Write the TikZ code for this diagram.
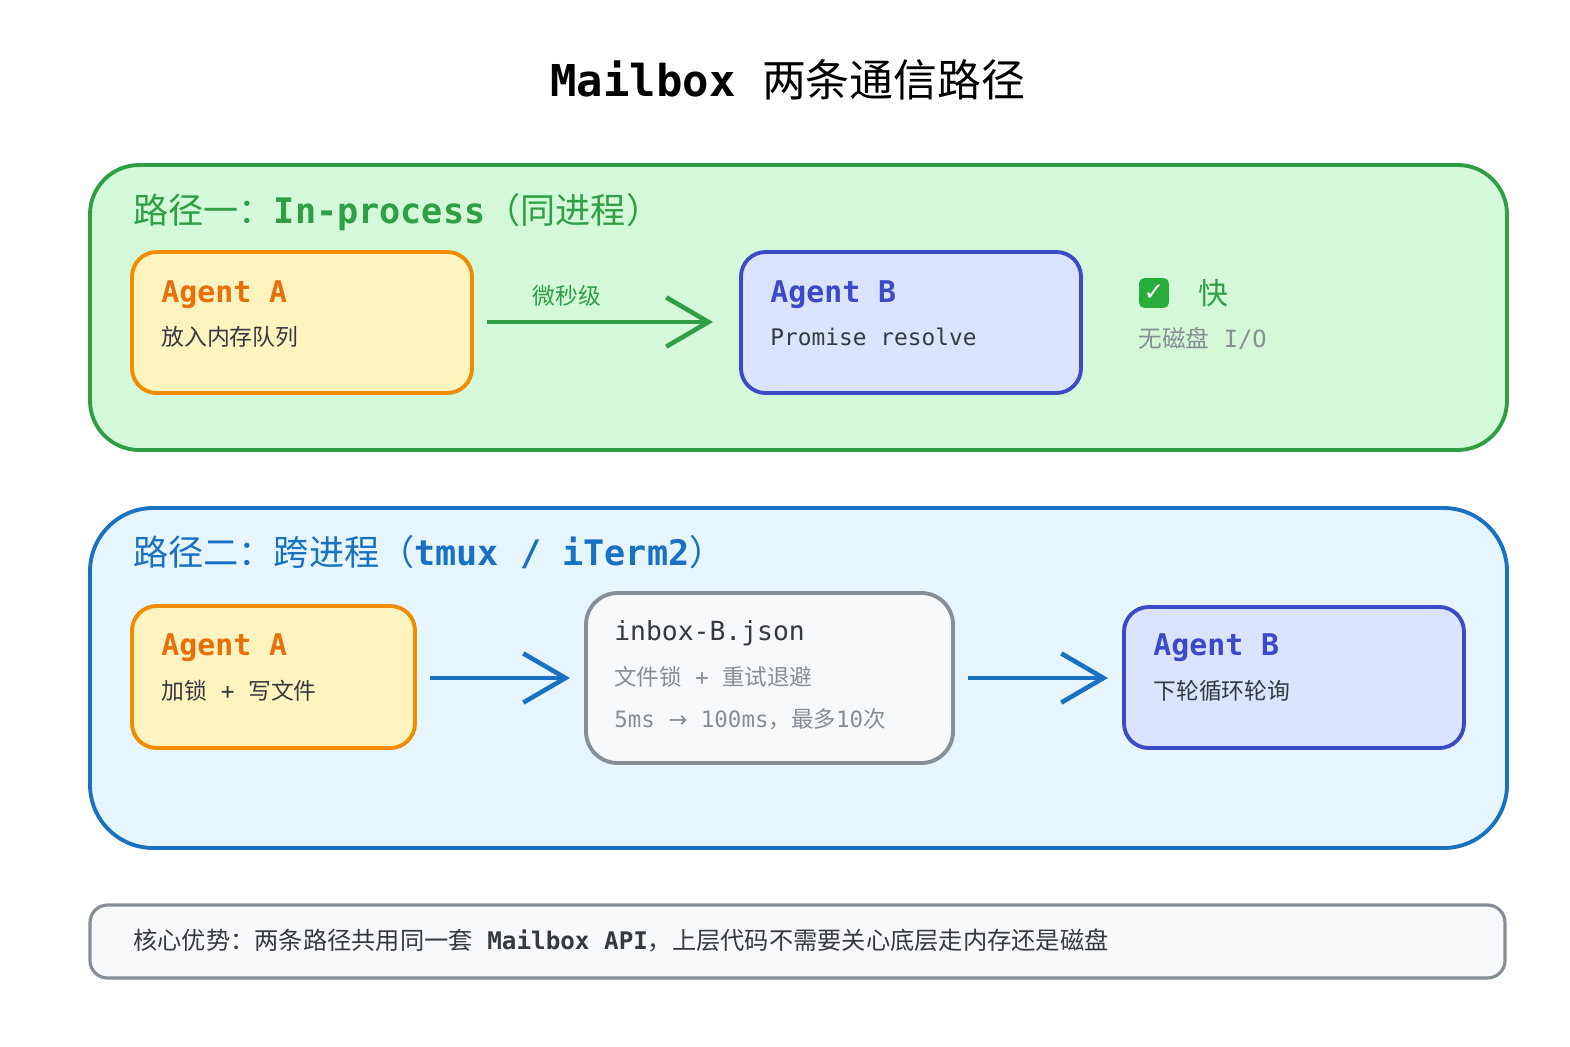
\documentclass[tikz,border=0pt]{standalone}
\usepackage{fontspec}
\setmainfont{DejaVu Sans Mono}
\newfontfamily\cjk{Noto Sans CJK SC}
\newfontfamily\dvs{DejaVu Sans}
\usetikzlibrary{arrows.meta}
\definecolor{gF}{HTML}{D3F9D8}\definecolor{gS}{HTML}{2F9E44}
\definecolor{yF}{HTML}{FFF3BF}\definecolor{oS}{HTML}{F08C00}\definecolor{oT}{HTML}{E8700B}
\definecolor{pF}{HTML}{DBE4FF}\definecolor{pS}{HTML}{3B4BC8}
\definecolor{bF}{HTML}{E7F5FF}\definecolor{bS}{HTML}{1971C2}
\definecolor{nF}{HTML}{F8F9FA}\definecolor{nS}{HTML}{868E96}
\definecolor{txt}{HTML}{343A40}\definecolor{gr}{HTML}{868E96}
\begin{document}
\begin{tikzpicture}[x=0.02cm,y=-0.02cm,
 box/.style={draw,line width=2.2pt,rounded corners=#1},
 lbl/.style={anchor=west,inner sep=0},
 head/.style={lbl,font=\bfseries\fontsize{17}{20}\selectfont},
 sub/.style={lbl,font=\fontsize{13}{15}\selectfont,text=txt},
 grp/.style={lbl,font=\fontsize{20}{23}\selectfont},
 arr/.style={line width=2.6pt,-{Straight Barb[length=24pt,width=28pt,line width=2.6pt]}}]
\useasboundingbox (0,0) rectangle (1570,1046);
\node (title) at (788,80) {\fontsize{25}{30}\selectfont\textbf{Mailbox} {\cjk 两条通信路径}};
% group 1
\draw[box=28pt,fill=gF,draw=gS] (90,165) rectangle (1507,450);
\node[grp,text=gS] (g1) at (133,212) {{\cjk 路径一：}\textbf{In-process}{\cjk （同进程）}};
\draw[box=14pt,fill=yF,draw=oS] (132,252) rectangle (472,393);
\node[head,text=oT] (a1h) at (161,295) {Agent A};
\node[sub] (a1s) at (161,337) {\cjk 放入内存队列};
\draw[box=14pt,fill=pF,draw=pS] (741,252) rectangle (1081,393);
\coordinate (a1e) at (487,322); \coordinate (b1w) at (713,322);
\node[head,text=pS] (b1h) at (770,295) {Agent B};
\node[sub] (b1s) at (770,337) {Promise resolve};
\draw[arr,draw=gS] (a1e) -- (b1w);
\node[font=\cjk\fontsize{13}{15}\selectfont,text=gS] (lat) at (567,296) {微秒级};
\node[fill=gS!85!green,rounded corners=3pt,minimum size=17pt,inner sep=0,text=white,font=\dvs\bfseries\fontsize{14}{14}\selectfont] (ok) at (1154,293) {✓};
\node[lbl,text=gS,font=\cjk\fontsize{17}{20}\selectfont] (fast) at (1198,293) {快};
\node[lbl,text=gr,font=\fontsize{13.5}{16}\selectfont] (nodisk) at (1138,339) {{\cjk 无磁盘} I/O};
% group 2
\draw[box=36pt,fill=bF,draw=bS] (90,508) rectangle (1507,848);
\node[grp,text=bS] (g2) at (133,552) {{\cjk 路径二：跨进程（}\textbf{tmux / iTerm2}{\cjk ）}};
\draw[box=14pt,fill=yF,draw=oS] (132,606) rectangle (415,748);
\node[head,text=oT] (a2h) at (161,648) {Agent A};
\node[sub] (a2s) at (161,691) {{\cjk 加锁} + {\cjk 写文件}};
\draw[box=18pt,fill=nF,draw=nS] (586,593) rectangle (953,763);
\node[lbl,text=txt,font=\fontsize{15}{18}\selectfont] (ih) at (614,633) {inbox-B.json};
\node[lbl,text=gr,font=\fontsize{12.8}{15}\selectfont] (is1) at (614,677) {{\cjk 文件锁} + {\cjk 重试退避}};
\node[lbl,text=gr,font=\fontsize{12.8}{15}\selectfont] (is2) at (614,719) {5ms {\dvs →} 100ms{\cjk ，最多}10{\cjk 次}};
\draw[box=14pt,fill=pF,draw=pS] (1124,607) rectangle (1464,748);
\node[head,text=pS] (b2h) at (1153,648) {Agent B};
\node[sub] (b2s) at (1153,691) {\cjk 下轮循环轮询};
\coordinate (a2e) at (430,678); \coordinate (iw) at (570,678);
\coordinate (ie) at (968,678); \coordinate (b2w) at (1108,678);
\draw[arr,draw=bS] (a2e) -- (iw);
\draw[arr,draw=bS] (ie) -- (b2w);
% bottom
\draw[box=10pt,fill=nF,draw=nS,line width=1.8pt] (90,905) rectangle (1505,978);
\node[lbl,text=txt,font=\fontsize{13.8}{16}\selectfont] (note) at (133,940) {{\cjk 核心优势：两条路径共用同一套} \textbf{Mailbox API}{\cjk ，上层代码不需要关心底层走内存还是磁盘}};
\end{tikzpicture}
\end{document}
